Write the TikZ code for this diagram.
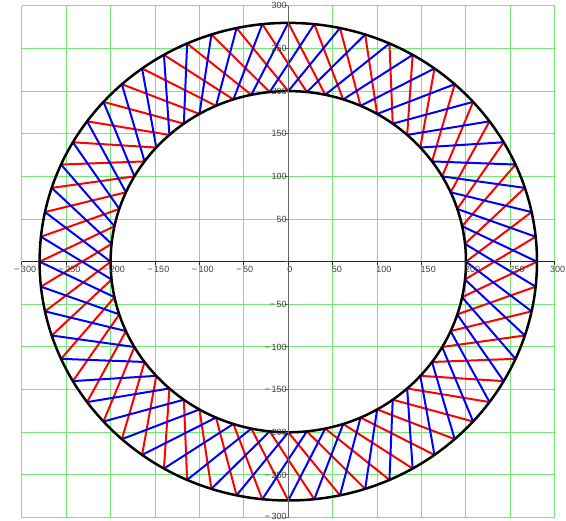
\documentclass[tikz,border=0pt]{standalone}
\usepackage{fontspec}
\setmainfont{Liberation Sans}
\definecolor{gridgreen}{RGB}{115,232,115}
\begin{document}
\begin{tikzpicture}[x=0.8883pt,y=0.853pt,
  lbl/.style={font=\fontsize{9}{10}\selectfont, text=black!75, inner sep=0pt},
  gridline/.style={gridgreen, line width=1pt},
  redline/.style={red, line width=2pt},
  blueline/.style={blue, line width=2pt},
  ring/.style={black, line width=2.5pt},
  axisline/.style={black!60, line width=1pt}]
\useasboundingbox (-288.3pt,-259.3pt) rectangle (277.7pt,261.7pt);
\fill[white] (-288.3pt,-259.3pt) rectangle (277.7pt,261.7pt);
% grid
\foreach \v in {-300,-250,...,300}{
  \draw[gridline] (\v,-300) -- (\v,300);
  \draw[gridline] (-300,\v) -- (300,\v);
}
% chords
\foreach \k in {0,...,59}{
  \draw[redline] (\k*6:200) -- (\k*6+12:280);
}
\foreach \k in {0,...,59}{
  \draw[blueline] (\k*6:200) -- (\k*6-12:280);
}
% rings
\draw[ring] (0,0) circle[x radius=248.7pt, y radius=238.8pt];
\draw[ring] (0,0) circle[x radius=177.7pt, y radius=170.6pt];
% axes
\draw[axisline] (0,-300) -- (0,300);
\draw[axisline, black!85] (-300,0) -- (300,0);
\foreach \v in {-300,-250,...,300}{
  \draw[axisline, black!85] (\v,0) -- ++(0,-3pt);
  \draw[axisline] (0,\v) -- ++(-3pt,0);
}
% x labels
\foreach \v in {-300,-250,...,-50}{
  \pgfmathtruncatemacro\a{-\v}
  \node[lbl, anchor=north west] (xl\v) at ([xshift=-1pt,yshift=-4.5pt]\v,0) {\llap{−\,}\a};
}
\foreach \v in {0,50,...,250}{
  \node[lbl, anchor=north west] (xl\v) at ([xshift=-1pt,yshift=-4.5pt]\v,0) {\v};
}
\node[lbl, anchor=north east] (xl300) at (277pt,-4.5pt) {300};
% y labels
\foreach \v in {-250,-200,...,-50}{
  \pgfmathtruncatemacro\a{-\v}
  \node[lbl, anchor=east] (yl\v) at ([xshift=-1.5pt]0,\v) {−\,\a};
}
\node[lbl, anchor=south east] (yl-300) at (-1.5pt,-258.5pt) {−\,300};
\foreach \v in {50,100,...,300}{
  \node[lbl, anchor=east] (yl\v) at ([xshift=-1.5pt]0,\v) {\v};
}
\end{tikzpicture}
\end{document}
